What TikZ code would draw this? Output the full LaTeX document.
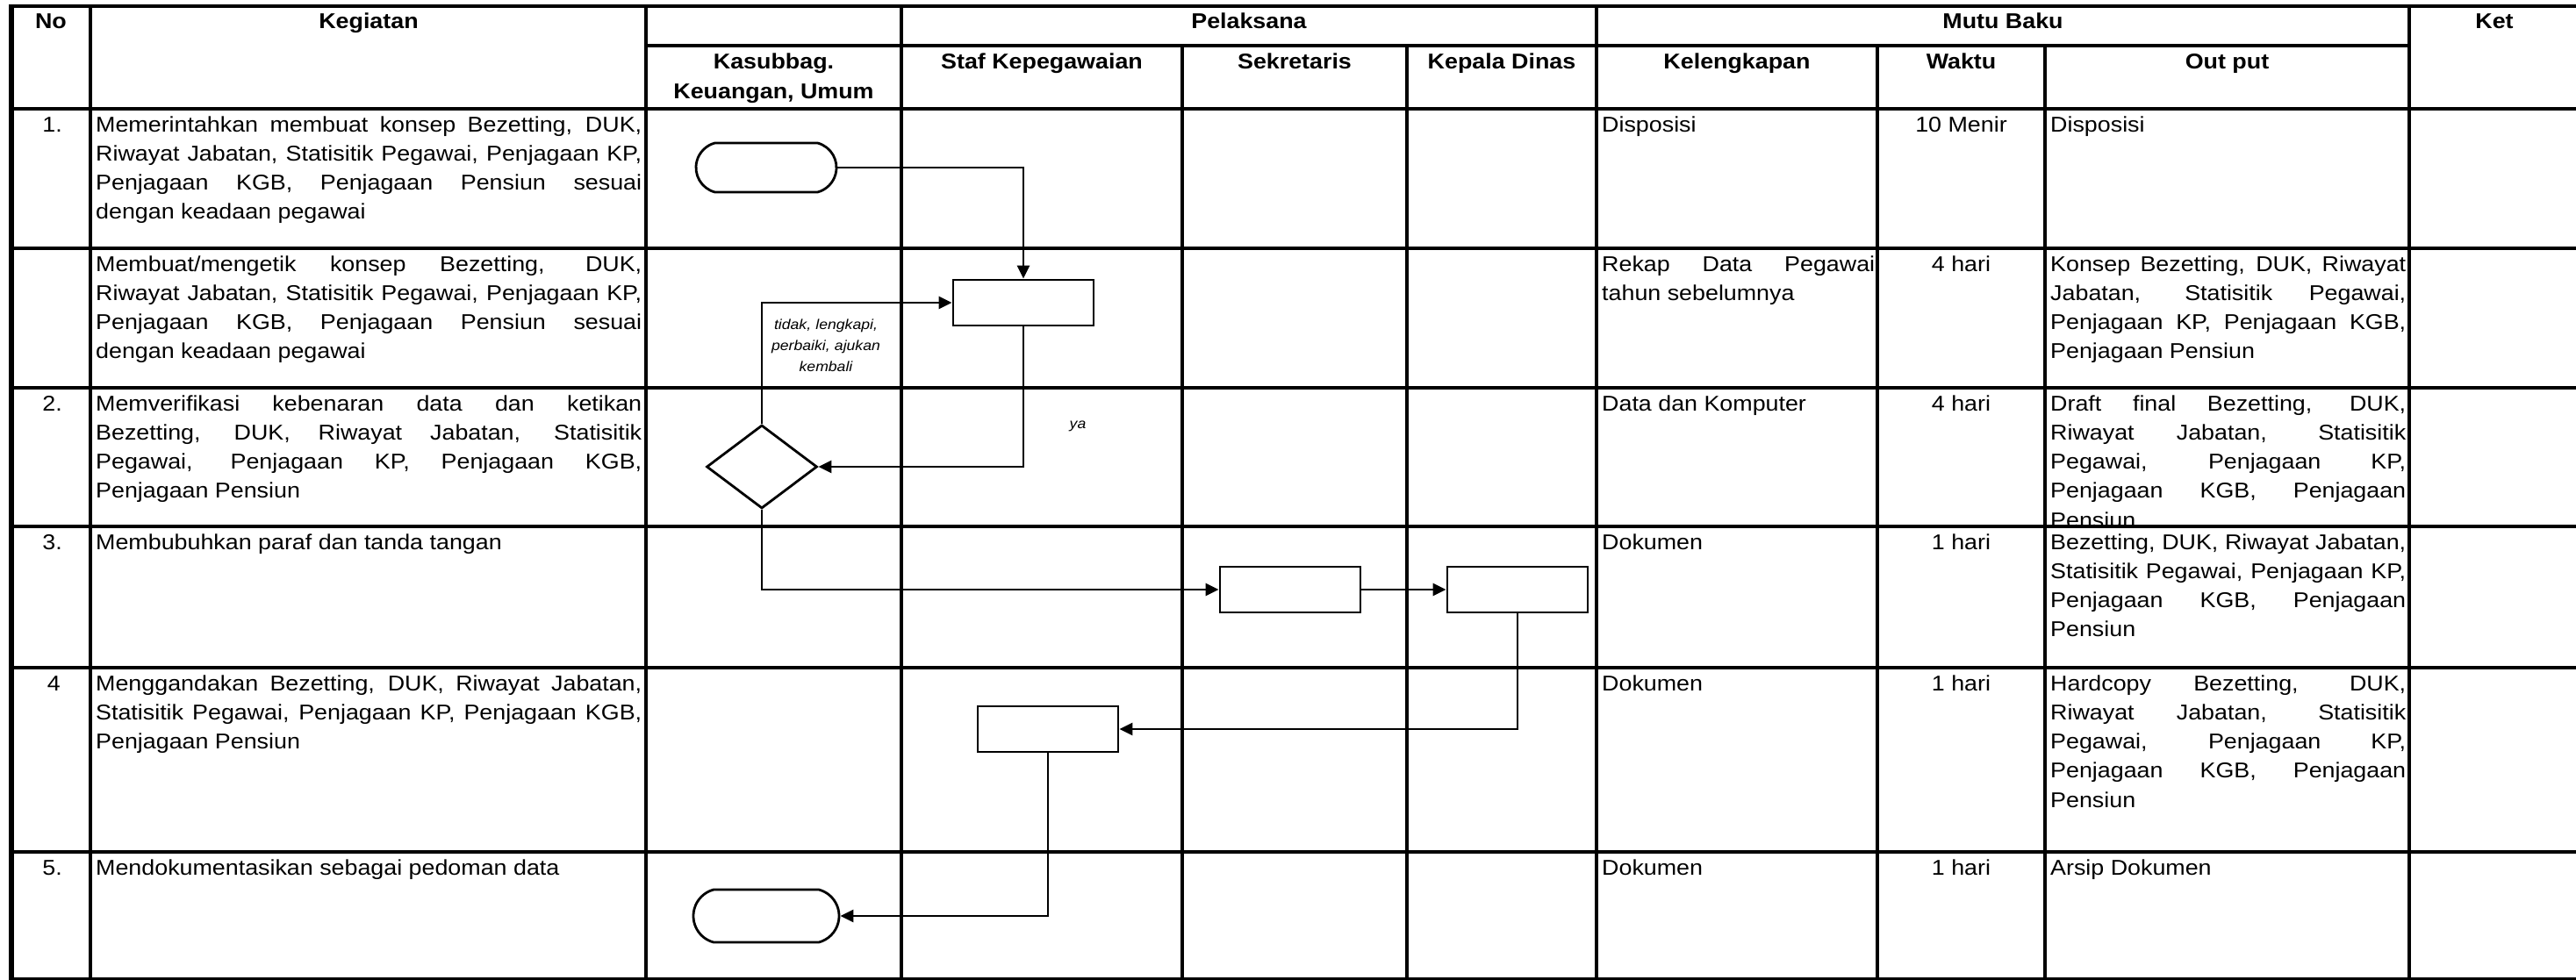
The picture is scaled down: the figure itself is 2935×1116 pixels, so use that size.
\documentclass[tikz,border=0pt]{standalone}
\usepackage{fontspec}
\newfontfamily\myfont[FakeStretch=1.1]{Liberation Sans}
\usetikzlibrary{arrows.meta,shapes.geometric,shapes.misc}
\newcommand\jline[2]{\makebox[#1][s]{\spaceskip=\fontdimen2\font plus 1fil\relax #2}}
\newcommand\nline[1]{\mbox{\spaceskip=0pt\relax #1}}
\begin{document}
\begin{tikzpicture}[x=1pt,y=-1pt,
  hl/.style={line width=4.5pt},
  vl/.style={line width=3.5pt},
  body/.style={font=\myfont\fontsize{24.4}{33.3}\selectfont, inner sep=0pt},
  head/.style={font=\myfont\bfseries\fontsize{24.4}{34}\selectfont, inner sep=0pt, anchor=base},
  proc/.style={draw, line width=2.8pt, minimum width=160pt, minimum height=52pt, inner sep=0pt},
  term/.style={draw, line width=2.8pt, rounded rectangle, rounded rectangle arc length=150, minimum width=160pt, minimum height=56pt, inner sep=0pt},
  dec/.style={draw, line width=2.8pt, diamond, minimum width=126pt, minimum height=95pt, inner sep=0pt},
  conn/.style={line width=2.8pt, -{Triangle[length=15pt,width=14pt]}},
  lbl/.style={font=\myfont\itshape\fontsize{16}{24}\selectfont, inner sep=0pt}
]
\useasboundingbox (0,0) rectangle (2935,1116);
\clip (0,0) rectangle (2935,1116);

% ---------- header texts
\node[head] (hNo) at (58,33) {No};
\node[head] (hKeg) at (420,33) {Kegiatan};
\node[head] (hPel) at (1423,33) {Pelaksana};
\node[head] (hMutu) at (2282,33) {Mutu Baku};
\node[head] (hKet) at (2842,33) {Ket};
\node[head] (hKasA) at (881.5,78) {Kasubbag.};
\node[head] (hKasB) at (881.5,112) {Keuangan, Umum};
\node[head] (hStaf) at (1187,78) {Staf Kepegawaian};
\node[head] (hSek) at (1475,78) {Sekretaris};
\node[head] (hKep) at (1711,78) {Kepala Dinas};
\node[head] (hKel) at (1979,78) {Kelengkapan};
\node[head] (hWak) at (2234.5,78) {Waktu};
\node[head] (hOut) at (2537.5,78) {Out put};

% ---------- numbers
\node[body, anchor=base east] (n1) at (71,150) {1.};
\node[body, anchor=base east] (n2) at (71,468) {2.};
\node[body, anchor=base east] (n3) at (71,626) {3.};
\node[body, anchor=base east] (n4) at (69,787) {4};
\node[body, anchor=base east] (n5) at (71,997) {5.};

% ---------- kegiatan
\node[body, text width=622pt, align=left, anchor=base west] (g1) at (109,150)
  {\jline{622pt}{Memerintahkan membuat konsep Bezetting, DUK,}\\
   \jline{622pt}{Riwayat Jabatan, Statisitik Pegawai, Penjagaan KP,}\\
   \jline{622pt}{Penjagaan KGB, Penjagaan Pensiun sesuai}\\
   \nline{dengan keadaan pegawai}};
\node[body, text width=622pt, align=left, anchor=base west] (g1b) at (109,309)
  {\jline{622pt}{Membuat/mengetik konsep Bezetting, DUK,}\\
   \jline{622pt}{Riwayat Jabatan, Statisitik Pegawai, Penjagaan KP,}\\
   \jline{622pt}{Penjagaan KGB, Penjagaan Pensiun sesuai}\\
   \nline{dengan keadaan pegawai}};
\node[body, text width=622pt, align=left, anchor=base west] (g2) at (109,468)
  {\jline{622pt}{Memverifikasi kebenaran data dan ketikan}\\
   \jline{622pt}{Bezetting, DUK, Riwayat Jabatan, Statisitik}\\
   \jline{622pt}{Pegawai, Penjagaan KP, Penjagaan KGB,}\\
   \nline{Penjagaan Pensiun}};
\node[body, anchor=base west] (g3) at (109,626) {Membubuhkan paraf dan tanda tangan};
\node[body, text width=622pt, align=left, anchor=base west] (g4) at (109,787)
  {\jline{622pt}{Menggandakan Bezetting, DUK, Riwayat Jabatan,}\\
   \jline{622pt}{Statisitik Pegawai, Penjagaan KP, Penjagaan KGB,}\\
   \nline{Penjagaan Pensiun}};
\node[body, anchor=base west] (g5) at (109,997) {Mendokumentasikan sebagai pedoman data};

% ---------- kelengkapan
\node[body, anchor=base west] (k1) at (1825,150) {Disposisi};
\node[body, text width=311pt, align=left, anchor=base west] (k1b) at (1825,309)
  {\jline{311pt}{Rekap Data Pegawai}\\ \nline{tahun sebelumnya}};
\node[body, anchor=base west] (k2) at (1825,468) {Data dan Komputer};
\node[body, anchor=base west] (k3) at (1825,626) {Dokumen};
\node[body, anchor=base west] (k4) at (1825,787) {Dokumen};
\node[body, anchor=base west] (k5) at (1825,997) {Dokumen};

% ---------- waktu
\node[body, anchor=base] (w1) at (2234.5,150) {10 Menir};
\node[body, anchor=base] (w1b) at (2234.5,309) {4 hari};
\node[body, anchor=base] (w2) at (2234.5,468) {4 hari};
\node[body, anchor=base] (w3) at (2234.5,626) {1 hari};
\node[body, anchor=base] (w4) at (2234.5,787) {1 hari};
\node[body, anchor=base] (w5) at (2234.5,997) {1 hari};

% ---------- output
\node[body, anchor=base west] (o1) at (2336,150) {Disposisi};
\node[body, text width=405pt, align=left, anchor=base west] (o1b) at (2336,309)
  {\jline{405pt}{Konsep Bezetting, DUK, Riwayat}\\
   \jline{405pt}{Jabatan, Statisitik Pegawai,}\\
   \jline{405pt}{Penjagaan KP, Penjagaan KGB,}\\
   \nline{Penjagaan Pensiun}};
\begin{scope}
\clip (2330,442) rectangle (2745,600);
\node[body, text width=405pt, align=left, anchor=base west] (o2) at (2336,468)
  {\jline{405pt}{Draft final Bezetting, DUK,}\\
   \jline{405pt}{Riwayat Jabatan, Statisitik}\\
   \jline{405pt}{Pegawai, Penjagaan KP,}\\
   \jline{405pt}{Penjagaan KGB, Penjagaan}\\
   \nline{Pensiun}};
\end{scope}
\node[body, text width=405pt, align=left, anchor=base west] (o3) at (2336,626)
  {\jline{405pt}{Bezetting, DUK, Riwayat Jabatan,}\\
   \jline{405pt}{Statisitik Pegawai, Penjagaan KP,}\\
   \jline{405pt}{Penjagaan KGB, Penjagaan}\\
   \nline{Pensiun}};
\node[body, text width=405pt, align=left, anchor=base west] (o4) at (2336,787)
  {\jline{405pt}{Hardcopy Bezetting, DUK,}\\
   \jline{405pt}{Riwayat Jabatan, Statisitik}\\
   \jline{405pt}{Pegawai, Penjagaan KP,}\\
   \jline{405pt}{Penjagaan KGB, Penjagaan}\\
   \nline{Pensiun}};
\node[body, anchor=base west] (o5) at (2336,997) {Arsip Dokumen};

% ---------- table lines
\draw[hl] (10,7) -- (2935,7);
\draw[hl] (736,52) -- (2745,52);
\foreach \yy in {124,283,442,600,761,971} \draw[hl] (10,\yy) -- (2935,\yy);
\draw[hl] (10,1116) -- (2935,1116);
\draw[line width=6pt] (13,5) -- (13,1116);
\foreach \xx in {103,736,1027,1819,2745} \draw[vl] (\xx,7) -- (\xx,1116);
\foreach \xx in {1347,1603,2139,2330} \draw[vl] (\xx,52) -- (\xx,1116);

% ---------- flowchart
\node[term] (t1) at (873,191) {};
\node[proc] (p1) at (1166,345) {};
\node[dec] (d1) at (868,532) {};
\node[proc] (p2) at (1470,672) {};
\node[proc] (p3) at (1729,672) {};
\node[proc] (p4) at (1194,831) {};
\node[term, minimum width=166pt, minimum height=60pt] (t2) at (873,1044) {};

\draw[conn] (t1.east) -| (p1.north);
\draw[conn] (p1.south) |- (d1.east);
\draw[conn] (d1.north) |- (p1.west);
\draw[conn] (d1.south) |- (p2.west);
\draw[conn] (p2.east) -- (p3.west);
\draw[conn] (p3.south) |- (p4.east);
\draw[conn] (p4.south) |- (t2.east);

\node[lbl, text width=140pt, align=center, anchor=base] (ltidak) at (941,375)
  {tidak, lengkapi,\\ perbaiki, ajukan\\ kembali};
\node[lbl, anchor=base] (lya) at (1228,488) {ya};
\end{tikzpicture}
\end{document}
